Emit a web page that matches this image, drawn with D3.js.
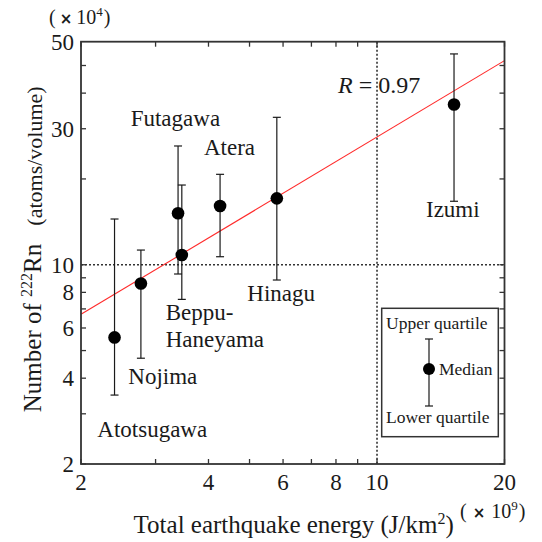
<!DOCTYPE html>
<html><head><meta charset="utf-8">
<script src="https://cdn.jsdelivr.net/npm/d3@7"></script>
<style>
html,body{margin:0;padding:0;background:#fff;}
svg{display:block;font-family:"Liberation Serif","Times New Roman",serif;}
</style></head>
<body><svg id="c" width="542" height="542"></svg>
<script>
// ---- data ----
const sites   = ["Atotsugawa","Nojima","Futagawa","Beppu-Haneyama","Atera","Hinagu","Izumi"];
const energy  = [2.40, 2.77, 3.39, 3.46, 4.26, 5.80, 15.2];     // x 10^9 J/km2
const medians = [5.56, 8.59, 15.15, 10.82, 16.07, 17.10, 36.5]; // x 10^4
const upperQ  = [14.47, 11.26, 26.1, 19.04, 20.76, 32.9, 54.9];
const lowerQ  = [3.49, 4.70, 9.28, 7.56, 10.67, 8.84, 16.7];
const fitX = [2, 20];
const fitY = [6.70, 52.0];
const xTickValues = [2,3,4,5,6,7,8,9,10,20];
const xTickLabels = [2,4,6,8,10,20];
const yTickValues = [2,3,4,5,6,7,8,9,10,20,30,40,50];
const yTickLabels = [2,4,6,8,10,30];
const yTopLabel = "50";
const xDomain = [2, 20];
const yDomain = [2, 60.6];
const refX = 10, refY = 10;
const rText = "0.97";

// ---- layout ----
const L = 81, R = 504.5, T = 41.7, B = 464;
const svg = d3.select("#c");
const x = d3.scaleLog().domain(xDomain).range([L, R]);
const y = d3.scaleLog().domain(yDomain).range([B, T]);
const ink = "#1a1a1a";
const TL = 5;

// reference dotted lines
svg.append("line").attr("x1", x(refX)).attr("x2", x(refX)).attr("y1", T).attr("y2", B)
  .attr("stroke", "#333").attr("stroke-width", 1.6).attr("stroke-dasharray", "2,2");
svg.append("line").attr("x1", L).attr("x2", R).attr("y1", y(refY)).attr("y2", y(refY))
  .attr("stroke", "#333").attr("stroke-width", 1.6).attr("stroke-dasharray", "2,2");

// regression line
svg.append("line").attr("x1", x(fitX[0])).attr("y1", y(fitY[0]))
  .attr("x2", x(fitX[1])).attr("y2", y(fitY[1]))
  .attr("stroke", "#ff2a2a").attr("stroke-width", 1.1);

// ticks (inward) on all four sides
const tk = svg.append("g").attr("stroke", "#333").attr("stroke-width", 1.3);
xTickValues.forEach(v => {
  tk.append("line").attr("x1", x(v)).attr("x2", x(v)).attr("y1", B).attr("y2", B - TL);
  tk.append("line").attr("x1", x(v)).attr("x2", x(v)).attr("y1", T).attr("y2", T + TL);
});
yTickValues.forEach(v => {
  tk.append("line").attr("y1", y(v)).attr("y2", y(v)).attr("x1", L).attr("x2", L + TL);
  tk.append("line").attr("y1", y(v)).attr("y2", y(v)).attr("x1", R).attr("x2", R - TL);
});

// frame
svg.append("rect").attr("x", L).attr("y", T).attr("width", R - L).attr("height", B - T)
  .attr("fill", "none").attr("stroke", "#333").attr("stroke-width", 1.8);

// tick labels
const fs = 23;
svg.append("g").selectAll("text").data(xTickLabels).join("text")
  .attr("x", d => x(d)).attr("y", 490).attr("text-anchor", "middle")
  .attr("font-size", fs).attr("fill", ink).text(d => d);
svg.append("g").selectAll("text").data(yTickLabels).join("text")
  .attr("x", 74).attr("y", d => y(d) + 8).attr("text-anchor", "end")
  .attr("font-size", fs).attr("fill", ink).text(d => d);
svg.append("text").attr("x", 74).attr("y", y(yDomain[1]) + 8).attr("text-anchor", "end")
  .attr("font-size", fs).attr("fill", ink).text(yTopLabel);

// error bars
const cw = 4;
const eb = svg.append("g").attr("stroke", ink).attr("stroke-width", 1.2);
energy.forEach((e, i) => {
  const cx = x(e);
  eb.append("line").attr("x1", cx).attr("x2", cx).attr("y1", y(upperQ[i])).attr("y2", y(lowerQ[i]));
  eb.append("line").attr("x1", cx - cw).attr("x2", cx + cw).attr("y1", y(upperQ[i])).attr("y2", y(upperQ[i]));
  eb.append("line").attr("x1", cx - cw).attr("x2", cx + cw).attr("y1", y(lowerQ[i])).attr("y2", y(lowerQ[i]));
});
svg.append("g").selectAll("circle").data(energy).join("circle")
  .attr("cx", d => x(d)).attr("cy", (d, i) => y(medians[i])).attr("r", 6.3).attr("fill", "#000");

// site labels
const labelPos = {
  "Futagawa": [[130.7, 126]],
  "Atera": [[204, 155]],
  "Izumi": [[426, 216.7]],
  "Hinagu": [[247.3, 301]],
  "Beppu-Haneyama": [[165.7, 320, "Beppu-"], [165.7, 347.3, "Haneyama"]],
  "Nojima": [[128.3, 384]],
  "Atotsugawa": [[97.3, 437.3]]
};
sites.forEach(s => {
  labelPos[s].forEach(p => {
    svg.append("text").attr("x", p[0]).attr("y", p[1]).attr("font-size", fs)
      .attr("fill", ink).text(p[2] || s);
  });
});

// R label
const rt = svg.append("text").attr("x", 338).attr("y", 93).attr("font-size", 24).attr("fill", ink);
rt.append("tspan").attr("font-style", "italic").text("R");
rt.append("tspan").text(" = " + rText);

// axis titles
const xt = svg.append("text").attr("x", 293.7).attr("y", 533).attr("text-anchor", "middle")
  .attr("font-size", 25).attr("fill", ink);
xt.append("tspan").text("Total earthquake energy (J/km");
xt.append("tspan").attr("font-size", 16).attr("dy", -9).text("2");
xt.append("tspan").attr("dy", 9).text(")");

function unitLabel(x0, y0, exp, gap) {
  const t = svg.append("text").attr("x", x0).attr("y", y0).attr("font-size", 20).attr("fill", ink);
  t.append("tspan").text("(");
  t.append("tspan").attr("dx", gap).attr("font-family", "DejaVu Sans").attr("font-size", 15)
    .attr("font-weight", "bold").text("\u00d7");
  t.append("tspan").attr("dx", gap).text("10");
  t.append("tspan").attr("font-size", 13).attr("dy", -8).text(exp);
  t.append("tspan").attr("dy", 8).attr("dx", 1).text(")");
}
unitLabel(460, 518, "9", 6);
unitLabel(49, 24, "4", 4);

const yt = svg.append("text").attr("transform", "translate(41,328) rotate(-90)")
  .attr("text-anchor", "middle").attr("font-size", 25).attr("fill", ink);
yt.append("tspan").text("Number of ");
yt.append("tspan").attr("font-size", 16).attr("dy", -9).text("222");
yt.append("tspan").attr("dy", 9).text("Rn");
svg.append("text").attr("transform", "translate(42,156) rotate(-90)")
  .attr("text-anchor", "middle").attr("font-size", 22).attr("fill", ink).text("(atoms/volume)");

// legend box
const lg = svg.append("g");
lg.append("rect").attr("x", 381.7).attr("y", 308.3).attr("width", 116.6).attr("height", 128.4)
  .attr("fill", "#fff").attr("stroke", "#333").attr("stroke-width", 1.5);
lg.append("text").attr("x", 386).attr("y", 329.3).attr("font-size", 17.5).attr("fill", ink).text("Upper quartile");
lg.append("text").attr("x", 386).attr("y", 423.3).attr("font-size", 17.5).attr("fill", ink).text("Lower quartile");
lg.append("text").attr("x", 439).attr("y", 375).attr("font-size", 17.5).attr("fill", ink).text("Median");
const lgs = lg.append("g").attr("stroke", ink).attr("stroke-width", 1.2);
lgs.append("line").attr("x1", 429).attr("x2", 429).attr("y1", 339).attr("y2", 406);
lgs.append("line").attr("x1", 425).attr("x2", 433).attr("y1", 339).attr("y2", 339);
lgs.append("line").attr("x1", 425).attr("x2", 433).attr("y1", 406).attr("y2", 406);
lg.append("circle").attr("cx", 429).attr("cy", 369).attr("r", 6).attr("fill", "#000");
</script></body></html>
